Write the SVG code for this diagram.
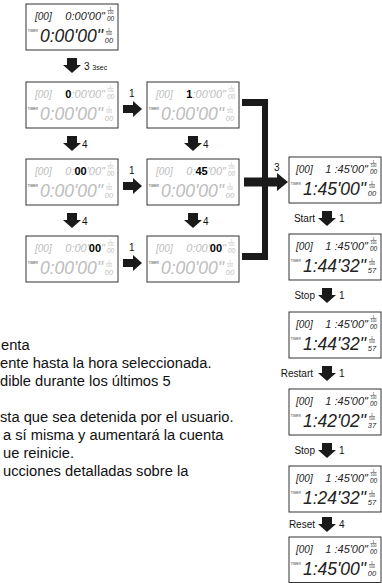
<svg xmlns="http://www.w3.org/2000/svg" xmlns:xlink="http://www.w3.org/1999/xlink" width="382" height="583" viewBox="0 0 382 583">
<style>
.box{fill:#fff;stroke:#333;stroke-width:1}
.lcd{font-family:"Liberation Sans",Arial,sans-serif;font-style:italic}
.g{fill:#bdbdbd}
.k{fill:#222}
.on{fill:#000;font-weight:bold;font-style:normal}
.br{font-size:10px}
.tt{font-size:11px;text-anchor:end}
.bt{font-size:17.5px;text-anchor:end}
.tm{font-family:"Liberation Sans",Arial,sans-serif;font-size:3.4px;fill:#444}
.fr{font-family:"Liberation Sans",Arial,sans-serif;font-size:3.5px;text-anchor:middle}
.hs{font-family:"Liberation Sans",Arial,sans-serif;font-style:italic;font-size:6.5px;text-anchor:middle}
.hb{font-family:"Liberation Sans",Arial,sans-serif;font-style:italic;font-size:7.5px;text-anchor:middle}
.fl{stroke-width:0.5}
.fg{stroke:#bdbdbd}
.fk{stroke:#222}
.lbl{font-family:"Liberation Sans",Arial,sans-serif;font-size:10px;fill:#111}
.sm{font-size:7px}
.rl{text-anchor:end}
.body{font-family:"Liberation Sans",Arial,sans-serif;font-size:14.7px;fill:#111}
.arr{fill:#1a1a1a}
</style>
<defs>
<path id="da" d="M-5,0H5V7H9L0,15L-9,7H-5Z"/>
<path id="ra" d="M0,-4H10V-8L19,0L10,8V4H0Z"/>
</defs>

<g id="n1" transform="translate(26,4)">
<rect class="box" width="92" height="46"/>
<text class="lcd br k" x="9" y="16">[00]</text>
<text class="lcd tt k" x="79" y="16">0:00'00"</text>
<text class="fr k"><tspan x="84.5" y="5.5">1</tspan><tspan x="84.5" y="10">100</tspan></text>
<line class="fl fk" x1="81.5" y1="6.5" x2="87.5" y2="6.5"/>
<text class="hs k" x="84.5" y="17">00</text>
<text class="tm" x="1.5" y="27.5">TIMER</text>
<text class="lcd bt k" x="77" y="38">0:00'00"</text>
<text class="fr k"><tspan x="83" y="26.5">1</tspan><tspan x="83" y="31">100</tspan></text>
<line class="fl fk" x1="80" y1="27.5" x2="86" y2="27.5"/>
<text class="hb k" x="83" y="38.5">00</text>
</g>

<g id="n2" transform="translate(26,82)">
<rect class="box" width="92" height="46"/>
<text class="lcd br g" x="9" y="16">[00]</text>
<text class="lcd tt g" x="79" y="16"><tspan class="on">0</tspan>:00'00"</text>
<text class="fr g"><tspan x="84.5" y="5.5">1</tspan><tspan x="84.5" y="10">100</tspan></text>
<line class="fl fg" x1="81.5" y1="6.5" x2="87.5" y2="6.5"/>
<text class="hs g" x="84.5" y="17">00</text>
<text class="tm" x="1.5" y="27.5">TIMER</text>
<text class="lcd bt g" x="77" y="38">0:00'00"</text>
<text class="fr g"><tspan x="83" y="26.5">1</tspan><tspan x="83" y="31">100</tspan></text>
<line class="fl fg" x1="80" y1="27.5" x2="86" y2="27.5"/>
<text class="hb g" x="83" y="38.5">00</text>
</g>

<g id="n3" transform="translate(147,82)">
<rect class="box" width="92" height="46"/>
<text class="lcd br g" x="9" y="16">[00]</text>
<text class="lcd tt g" x="79" y="16"><tspan class="on">1</tspan>:00'00"</text>
<text class="fr g"><tspan x="84.5" y="5.5">1</tspan><tspan x="84.5" y="10">100</tspan></text>
<line class="fl fg" x1="81.5" y1="6.5" x2="87.5" y2="6.5"/>
<text class="hs g" x="84.5" y="17">00</text>
<text class="tm" x="1.5" y="27.5">TIMER</text>
<text class="lcd bt g" x="77" y="38">0:00'00"</text>
<text class="fr g"><tspan x="83" y="26.5">1</tspan><tspan x="83" y="31">100</tspan></text>
<line class="fl fg" x1="80" y1="27.5" x2="86" y2="27.5"/>
<text class="hb g" x="83" y="38.5">00</text>
</g>

<g id="n4" transform="translate(26,159)">
<rect class="box" width="92" height="46"/>
<text class="lcd br g" x="9" y="16">[00]</text>
<text class="lcd tt g" x="79" y="16">0:<tspan class="on">00</tspan>'00"</text>
<text class="fr g"><tspan x="84.5" y="5.5">1</tspan><tspan x="84.5" y="10">100</tspan></text>
<line class="fl fg" x1="81.5" y1="6.5" x2="87.5" y2="6.5"/>
<text class="hs g" x="84.5" y="17">00</text>
<text class="tm" x="1.5" y="27.5">TIMER</text>
<text class="lcd bt g" x="77" y="38">0:00'00"</text>
<text class="fr g"><tspan x="83" y="26.5">1</tspan><tspan x="83" y="31">100</tspan></text>
<line class="fl fg" x1="80" y1="27.5" x2="86" y2="27.5"/>
<text class="hb g" x="83" y="38.5">00</text>
</g>

<g id="n5" transform="translate(147,159)">
<rect class="box" width="92" height="46"/>
<text class="lcd br g" x="9" y="16">[00]</text>
<text class="lcd tt g" x="79" y="16">0:<tspan class="on">45</tspan>'00"</text>
<text class="fr g"><tspan x="84.5" y="5.5">1</tspan><tspan x="84.5" y="10">100</tspan></text>
<line class="fl fg" x1="81.5" y1="6.5" x2="87.5" y2="6.5"/>
<text class="hs g" x="84.5" y="17">00</text>
<text class="tm" x="1.5" y="27.5">TIMER</text>
<text class="lcd bt g" x="77" y="38">0:00'00"</text>
<text class="fr g"><tspan x="83" y="26.5">1</tspan><tspan x="83" y="31">100</tspan></text>
<line class="fl fg" x1="80" y1="27.5" x2="86" y2="27.5"/>
<text class="hb g" x="83" y="38.5">00</text>
</g>

<g id="n6" transform="translate(26,236)">
<rect class="box" width="92" height="46"/>
<text class="lcd br g" x="9" y="16">[00]</text>
<text class="lcd tt g" x="79" y="16">0:00'<tspan class="on">00</tspan>"</text>
<text class="fr g"><tspan x="84.5" y="5.5">1</tspan><tspan x="84.5" y="10">100</tspan></text>
<line class="fl fg" x1="81.5" y1="6.5" x2="87.5" y2="6.5"/>
<text class="hs g" x="84.5" y="17">00</text>
<text class="tm" x="1.5" y="27.5">TIMER</text>
<text class="lcd bt g" x="77" y="38">0:00'00"</text>
<text class="fr g"><tspan x="83" y="26.5">1</tspan><tspan x="83" y="31">100</tspan></text>
<line class="fl fg" x1="80" y1="27.5" x2="86" y2="27.5"/>
<text class="hb g" x="83" y="38.5">00</text>
</g>

<g id="n7" transform="translate(147,236)">
<rect class="box" width="92" height="46"/>
<text class="lcd br g" x="9" y="16">[00]</text>
<text class="lcd tt g" x="79" y="16">0:00'<tspan class="on">00</tspan>"</text>
<text class="fr g"><tspan x="84.5" y="5.5">1</tspan><tspan x="84.5" y="10">100</tspan></text>
<line class="fl fg" x1="81.5" y1="6.5" x2="87.5" y2="6.5"/>
<text class="hs g" x="84.5" y="17">00</text>
<text class="tm" x="1.5" y="27.5">TIMER</text>
<text class="lcd bt g" x="77" y="38">0:00'00"</text>
<text class="fr g"><tspan x="83" y="26.5">1</tspan><tspan x="83" y="31">100</tspan></text>
<line class="fl fg" x1="80" y1="27.5" x2="86" y2="27.5"/>
<text class="hb g" x="83" y="38.5">00</text>
</g>

<g id="r1" transform="translate(289,157)">
<rect class="box" width="92" height="46"/>
<text class="lcd br k" x="7" y="16">[00]</text>
<text class="lcd tt k" x="79" y="16">1 :45'00"</text>
<text class="fr k"><tspan x="84.5" y="5.5">1</tspan><tspan x="84.5" y="10">100</tspan></text>
<line class="fl fk" x1="81.5" y1="6.5" x2="87.5" y2="6.5"/>
<text class="hs k" x="84.5" y="17">00</text>
<text class="tm" x="1.5" y="27.5">TIMER</text>
<text class="lcd bt k" x="77" y="38">1:45'00"</text>
<text class="fr k"><tspan x="83" y="26.5">1</tspan><tspan x="83" y="31">100</tspan></text>
<line class="fl fk" x1="80" y1="27.5" x2="86" y2="27.5"/>
<text class="hb k" x="83" y="38.5">00</text>
</g>

<g id="r2" transform="translate(289,234)">
<rect class="box" width="92" height="46"/>
<text class="lcd br k" x="7" y="16">[00]</text>
<text class="lcd tt k" x="79" y="16">1 :45'00"</text>
<text class="fr k"><tspan x="84.5" y="5.5">1</tspan><tspan x="84.5" y="10">100</tspan></text>
<line class="fl fk" x1="81.5" y1="6.5" x2="87.5" y2="6.5"/>
<text class="hs k" x="84.5" y="17">00</text>
<text class="tm" x="1.5" y="27.5">TIMER</text>
<text class="lcd bt k" x="77" y="38">1:44'32"</text>
<text class="fr k"><tspan x="83" y="26.5">1</tspan><tspan x="83" y="31">100</tspan></text>
<line class="fl fk" x1="80" y1="27.5" x2="86" y2="27.5"/>
<text class="hb k" x="83" y="38.5">57</text>
</g>

<g id="r3" transform="translate(289,312)">
<rect class="box" width="92" height="46"/>
<text class="lcd br k" x="7" y="16">[00]</text>
<text class="lcd tt k" x="79" y="16">1 :45'00"</text>
<text class="fr k"><tspan x="84.5" y="5.5">1</tspan><tspan x="84.5" y="10">100</tspan></text>
<line class="fl fk" x1="81.5" y1="6.5" x2="87.5" y2="6.5"/>
<text class="hs k" x="84.5" y="17">00</text>
<text class="tm" x="1.5" y="27.5">TIMER</text>
<text class="lcd bt k" x="77" y="38">1:44'32"</text>
<text class="fr k"><tspan x="83" y="26.5">1</tspan><tspan x="83" y="31">100</tspan></text>
<line class="fl fk" x1="80" y1="27.5" x2="86" y2="27.5"/>
<text class="hb k" x="83" y="38.5">57</text>
</g>

<g id="r4" transform="translate(289,389)">
<rect class="box" width="92" height="46"/>
<text class="lcd br k" x="7" y="16">[00]</text>
<text class="lcd tt k" x="79" y="16">1 :45'00"</text>
<text class="fr k"><tspan x="84.5" y="5.5">1</tspan><tspan x="84.5" y="10">100</tspan></text>
<line class="fl fk" x1="81.5" y1="6.5" x2="87.5" y2="6.5"/>
<text class="hs k" x="84.5" y="17">00</text>
<text class="tm" x="1.5" y="27.5">TIMER</text>
<text class="lcd bt k" x="77" y="38">1:42'02"</text>
<text class="fr k"><tspan x="83" y="26.5">1</tspan><tspan x="83" y="31">100</tspan></text>
<line class="fl fk" x1="80" y1="27.5" x2="86" y2="27.5"/>
<text class="hb k" x="83" y="38.5">37</text>
</g>

<g id="r5" transform="translate(289,466)">
<rect class="box" width="92" height="46"/>
<text class="lcd br k" x="7" y="16">[00]</text>
<text class="lcd tt k" x="79" y="16">1 :45'00"</text>
<text class="fr k"><tspan x="84.5" y="5.5">1</tspan><tspan x="84.5" y="10">100</tspan></text>
<line class="fl fk" x1="81.5" y1="6.5" x2="87.5" y2="6.5"/>
<text class="hs k" x="84.5" y="17">00</text>
<text class="tm" x="1.5" y="27.5">TIMER</text>
<text class="lcd bt k" x="77" y="38">1:24'32"</text>
<text class="fr k"><tspan x="83" y="26.5">1</tspan><tspan x="83" y="31">100</tspan></text>
<line class="fl fk" x1="80" y1="27.5" x2="86" y2="27.5"/>
<text class="hb k" x="83" y="38.5">57</text>
</g>

<g id="r6" transform="translate(289,537)">
<rect class="box" width="92" height="45.5"/>
<text class="lcd br k" x="7" y="16">[00]</text>
<text class="lcd tt k" x="79" y="16">1 :45'00"</text>
<text class="fr k"><tspan x="84.5" y="5.5">1</tspan><tspan x="84.5" y="10">100</tspan></text>
<line class="fl fk" x1="81.5" y1="6.5" x2="87.5" y2="6.5"/>
<text class="hs k" x="84.5" y="17">00</text>
<text class="tm" x="1.5" y="27.5">TIMER</text>
<text class="lcd bt k" x="77" y="38">1:45'00"</text>
<text class="fr k"><tspan x="83" y="26.5">1</tspan><tspan x="83" y="31">100</tspan></text>
<line class="fl fk" x1="80" y1="27.5" x2="86" y2="27.5"/>
<text class="hb k" x="83" y="38.5">00</text>
</g>

<g id="connectors" class="arr">
<use xlink:href="#da" x="72" y="58"/>
<use xlink:href="#da" x="72" y="136"/>
<use xlink:href="#da" x="193" y="136"/>
<use xlink:href="#da" x="72" y="213"/>
<use xlink:href="#da" x="193" y="213"/>
<use xlink:href="#ra" x="123" y="109"/>
<use xlink:href="#ra" x="123" y="186"/>
<use xlink:href="#ra" x="123" y="263"/>
<path d="M242,99H268V260H242V253H262V106H242Z"/>
<path d="M244,177.5H277V173L288,182L277,191V186.5H244Z"/>
<use xlink:href="#da" x="327" y="211"/>
<use xlink:href="#da" x="327" y="288"/>
<use xlink:href="#da" x="327" y="366"/>
<use xlink:href="#da" x="327" y="443"/>
<use xlink:href="#da" x="327" y="517"/>
</g>

<g id="labels">
<text class="lbl" x="84" y="70">3 <tspan class="sm">3sec</tspan></text>
<text class="lbl" x="82" y="148">4</text>
<text class="lbl" x="203" y="148">4</text>
<text class="lbl" x="82" y="225">4</text>
<text class="lbl" x="203" y="225">4</text>
<text class="lbl" x="129" y="97">1</text>
<text class="lbl" x="129" y="174">1</text>
<text class="lbl" x="129" y="251">1</text>
<text class="lbl" x="274" y="171">3</text>
<text class="lbl rl" x="315" y="222">Start</text>
<text class="lbl" x="339" y="222">1</text>
<text class="lbl rl" x="315" y="299">Stop</text>
<text class="lbl" x="339" y="299">1</text>
<text class="lbl rl" x="313" y="377">Restart</text>
<text class="lbl" x="339" y="377">1</text>
<text class="lbl rl" x="315" y="454">Stop</text>
<text class="lbl" x="339" y="454">1</text>
<text class="lbl rl" x="315" y="528">Reset</text>
<text class="lbl" x="339" y="528">4</text>
</g>

<g id="text">
<text class="body" x="1" y="350">enta</text>
<text class="body" x="0" y="368">ente hasta la hora seleccionada.</text>
<text class="body" x="0" y="386">dible durante los últimos 5</text>
<text class="body" x="0" y="422">sta que sea detenida por el usuario.</text>
<text class="body" x="3" y="440">a sí misma y aumentará la cuenta</text>
<text class="body" x="3" y="458">ue reinicie.</text>
<text class="body" x="3" y="476">ucciones detalladas sobre la</text>
</g>
</svg>
